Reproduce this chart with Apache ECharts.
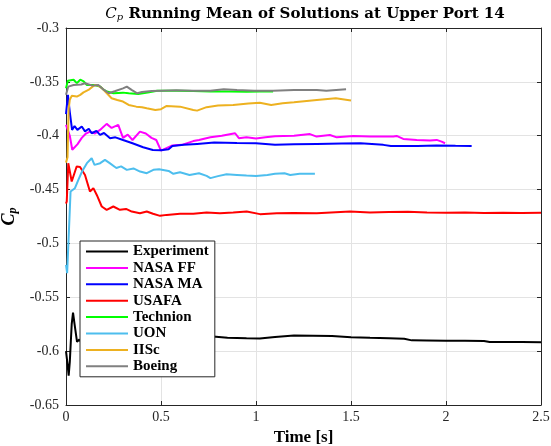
<!DOCTYPE html>
<html>
<head>
<meta charset="utf-8">
<script src="https://cdn.jsdelivr.net/npm/echarts@6/dist/echarts.min.js"></script>
<style>
  html, body { margin: 0; padding: 0; background: #fff; }
  #chart { width: 551px; height: 446px; }
</style>
</head>
<body>
<div id="chart"></div>
<script>
// Running-mean Cp at upper port 14, one time/value pair of arrays per source
const seriesNames = ['Experiment', 'NASA FF', 'NASA MA', 'USAFA', 'Technion', 'UON', 'IISc', 'Boeing'];

const expTime = [0, 0.008, 0.014, 0.02, 0.03, 0.037, 0.045, 0.058, 0.07, 0.08, 0.2, 0.4, 0.6, 0.774, 0.85, 0.95, 1.02, 1.1, 1.2, 1.3, 1.4, 1.5, 1.6, 1.7, 1.78, 1.82, 1.9, 2.0, 2.1, 2.2, 2.23, 2.3, 2.4, 2.5];
const expCp = [-0.600, -0.612, -0.6228, -0.610, -0.575, -0.5643, -0.575, -0.5914, -0.5892, -0.592, -0.590, -0.589, -0.588, -0.5863, -0.5875, -0.5880, -0.5883, -0.5868, -0.5854, -0.5856, -0.5860, -0.5870, -0.5876, -0.5880, -0.5885, -0.5900, -0.5901, -0.5903, -0.5903, -0.5905, -0.5915, -0.5915, -0.5914, -0.5917];

const nasaFfTime = [0, 0.02, 0.033, 0.04, 0.06, 0.083, 0.105, 0.126, 0.153, 0.179, 0.214, 0.24, 0.275, 0.3, 0.325, 0.35, 0.389, 0.42, 0.45, 0.475, 0.5, 0.51, 0.56, 0.61, 0.67, 0.7, 0.76, 0.82, 0.89, 0.91, 0.95, 1.0, 1.05, 1.1, 1.144, 1.2, 1.284, 1.319, 1.389, 1.425, 1.512, 1.6, 1.723, 1.74, 1.775, 1.846, 1.916, 1.951, 1.977, 1.995];
const nasaFfCp = [-0.390, -0.400, -0.413, -0.4138, -0.408, -0.402, -0.398, -0.3962, -0.398, -0.3946, -0.389, -0.3928, -0.390, -0.402, -0.399, -0.404, -0.3962, -0.398, -0.402, -0.404, -0.4138, -0.4145, -0.409, -0.4085, -0.405, -0.404, -0.4015, -0.400, -0.3977, -0.4023, -0.4015, -0.4025, -0.4015, -0.4005, -0.4002, -0.4000, -0.3985, -0.4008, -0.3993, -0.4015, -0.4002, -0.4008, -0.4008, -0.4002, -0.4030, -0.4039, -0.4045, -0.4039, -0.4055, -0.407];

const nasaMaTime = [0, 0.01, 0.02, 0.032, 0.045, 0.06, 0.083, 0.1, 0.12, 0.135, 0.16, 0.179, 0.2, 0.232, 0.26, 0.3, 0.35, 0.406, 0.457, 0.5, 0.54, 0.56, 0.62, 0.69, 0.78, 0.9, 1.0, 1.1, 1.2, 1.32, 1.45, 1.55, 1.67, 1.71, 1.85, 1.95, 2.05, 2.135];
const nasaMaCp = [-0.380, -0.362, -0.378, -0.3946, -0.391, -0.3946, -0.3915, -0.396, -0.3935, -0.3977, -0.3955, -0.3993, -0.3975, -0.4023, -0.4015, -0.404, -0.407, -0.4107, -0.4132, -0.4135, -0.4126, -0.4095, -0.4085, -0.4076, -0.4064, -0.4068, -0.407, -0.4085, -0.408, -0.4076, -0.4072, -0.407, -0.4085, -0.4095, -0.4095, -0.4090, -0.4093, -0.4095];

const usafaTime = [0, 0.004, 0.012, 0.03, 0.056, 0.074, 0.1, 0.126, 0.144, 0.162, 0.188, 0.214, 0.249, 0.284, 0.316, 0.346, 0.389, 0.425, 0.458, 0.495, 0.53, 0.6, 0.67, 0.74, 0.81, 0.88, 0.951, 1.021, 1.109, 1.196, 1.32, 1.495, 1.6, 1.7, 1.8, 1.9, 2.0, 2.1, 2.2, 2.3, 2.4, 2.5];
const usafaCp = [-0.463, -0.461, -0.4255, -0.4425, -0.4286, -0.429, -0.4364, -0.4518, -0.4487, -0.455, -0.4657, -0.4688, -0.4657, -0.4688, -0.4680, -0.4704, -0.4719, -0.4704, -0.4725, -0.4744, -0.4735, -0.4725, -0.4725, -0.4713, -0.472, -0.4713, -0.4704, -0.4728, -0.472, -0.4718, -0.472, -0.4704, -0.4712, -0.4708, -0.4705, -0.4712, -0.4715, -0.4712, -0.4718, -0.4715, -0.4718, -0.4715];

const technionTime = [0, 0.01, 0.02, 0.04, 0.057, 0.075, 0.093, 0.11, 0.15, 0.18, 0.2, 0.215, 0.25, 0.3, 0.33, 0.38, 0.43, 0.48, 0.58, 0.67, 0.76, 0.86, 0.95, 1.02, 1.09];
const technionCp = [-0.356, -0.349, -0.3485, -0.348, -0.3512, -0.348, -0.3495, -0.3529, -0.3529, -0.3544, -0.3575, -0.359, -0.3606, -0.3600, -0.3605, -0.3612, -0.3600, -0.3582, -0.3582, -0.3585, -0.359, -0.359, -0.3592, -0.359, -0.359];

const uonTime = [0, 0.006, 0.015, 0.024, 0.03, 0.047, 0.065, 0.085, 0.11, 0.135, 0.15, 0.18, 0.205, 0.23, 0.265, 0.29, 0.32, 0.355, 0.39, 0.425, 0.46, 0.49, 0.54, 0.565, 0.6, 0.65, 0.7, 0.74, 0.76, 0.8, 0.845, 0.9, 0.95, 1.0, 1.06, 1.1, 1.15, 1.18, 1.23, 1.31];
const uonCp = [-0.520, -0.5276, -0.490, -0.4518, -0.4503, -0.4487, -0.441, -0.433, -0.4255, -0.4209, -0.4271, -0.4255, -0.4224, -0.4255, -0.430, -0.4285, -0.4317, -0.4304, -0.4333, -0.4348, -0.4317, -0.4311, -0.4327, -0.4354, -0.434, -0.4364, -0.4348, -0.4373, -0.4394, -0.4375, -0.4358, -0.4364, -0.437, -0.4373, -0.4364, -0.4354, -0.4348, -0.4364, -0.4354, -0.4354];

const iiscTime = [0, 0.008, 0.014, 0.02, 0.03, 0.037, 0.057, 0.075, 0.092, 0.118, 0.14, 0.155, 0.17, 0.19, 0.215, 0.24, 0.27, 0.3, 0.33, 0.37, 0.4, 0.425, 0.47, 0.5, 0.53, 0.6, 0.67, 0.69, 0.74, 0.8, 0.88, 0.96, 1.02, 1.08, 1.14, 1.2, 1.32, 1.42, 1.5];
const iiscCp = [-0.425, -0.420, -0.375, -0.3668, -0.363, -0.3613, -0.3637, -0.3621, -0.3598, -0.3575, -0.3544, -0.3529, -0.3535, -0.356, -0.3606, -0.3652, -0.3668, -0.3683, -0.3714, -0.373, -0.3736, -0.3745, -0.3761, -0.3754, -0.3724, -0.373, -0.3761, -0.3767, -0.3735, -0.372, -0.3714, -0.370, -0.3693, -0.3714, -0.3699, -0.369, -0.3668, -0.3652, -0.3674];

const boeingTime = [0, 0.012, 0.04, 0.08, 0.1, 0.14, 0.17, 0.2, 0.225, 0.26, 0.3, 0.32, 0.345, 0.375, 0.4, 0.45, 0.5, 0.58, 0.67, 0.76, 0.83, 0.9, 0.99, 1.09, 1.2, 1.32, 1.37, 1.474];
const boeingCp = [-0.362, -0.3544, -0.3529, -0.3525, -0.3513, -0.3535, -0.3529, -0.3575, -0.3606, -0.3585, -0.356, -0.3544, -0.3575, -0.3606, -0.3595, -0.3585, -0.3582, -0.3578, -0.3582, -0.3582, -0.3569, -0.3575, -0.3582, -0.3582, -0.3575, -0.3575, -0.3582, -0.3569];

const xTicks = { min: 0, max: 2.5, step: 0.5 };
const yTicks = { min: -0.65, max: -0.3, step: 0.05 };

const timeSets = [expTime, nasaFfTime, nasaMaTime, usafaTime, technionTime, uonTime, iiscTime, boeingTime];
const cpSets = [expCp, nasaFfCp, nasaMaCp, usafaCp, technionCp, uonCp, iiscCp, boeingCp];
const lineColors = ['#000000', '#ff00ff', '#0000ff', '#ff0000', '#00ff00', '#4dbeee', '#edb120', '#808080'];

const serif = 'Liberation Serif';
const titleSerif = 'DejaVu Serif';
const axisColor = '#262626';
const gridColor = '#e3e3e3';

const pairs = (t, v) => t.map((x, i) => [x, v[i]]);
const fmt = v => String(Math.round(v * 100) / 100);

const series = seriesNames.map((name, i) => ({
  name: name,
  type: 'line',
  xAxisIndex: 0,
  yAxisIndex: 0,
  data: pairs(timeSets[i], cpSets[i]),
  showSymbol: false,
  symbol: 'none',
  smooth: false,
  animation: false,
  lineStyle: { color: lineColors[i], width: 2 },
  itemStyle: { color: lineColors[i] },
  z: 2 + i * 0.01
}));

const chart = echarts.init(document.getElementById('chart'), null, { renderer: 'canvas' });
chart.setOption({
  animation: false,
  backgroundColor: '#ffffff',
  title: {
    text: '{c|C}{p|p} Running Mean of Solutions at Upper Port 14',
    left: 305,
    top: 6,
    textAlign: 'center',
    padding: 0,
    textStyle: {
      fontFamily: titleSerif,
      fontWeight: 'bold',
      fontSize: 15,
      color: '#000',
      rich: {
        c: { fontFamily: titleSerif, fontStyle: 'italic', fontWeight: 'normal', fontSize: 15, color: '#000' },
        p: { fontFamily: titleSerif, fontStyle: 'italic', fontWeight: 'normal', fontSize: 10, color: '#000', verticalAlign: 'bottom', padding: [6, 0, 0, 0] }
      }
    }
  },
  grid: { left: 66, right: 10, top: 28, bottom: 41, containLabel: false, outerBoundsMode: 'none', show: false },
  legend: {
    data: seriesNames,
    orient: 'vertical',
    left: 80,
    top: 241,
    backgroundColor: '#ffffff',
    borderColor: axisColor,
    borderWidth: 1,
    borderRadius: 0,
    padding: [3, 6, 3, 5],
    itemWidth: 42,
    itemHeight: 14,
    itemGap: 1.4,
    itemStyle: { opacity: 0 },
    textStyle: { fontFamily: serif, fontWeight: 'bold', fontSize: 15, color: '#000' }
  },
  xAxis: [{
    type: 'value',
    min: xTicks.min, max: xTicks.max, interval: xTicks.step,
    position: 'bottom',
    name: 'Time [s]',
    nameLocation: 'middle',
    nameGap: 20,
    nameTextStyle: { fontFamily: serif, fontWeight: 'bold', fontSize: 17, color: '#000' },
    axisLine: { show: true, onZero: false, lineStyle: { color: axisColor, width: 1 } },
    axisTick: { show: true, inside: true, length: 4, lineStyle: { color: axisColor } },
    axisLabel: { fontFamily: serif, fontSize: 14, color: axisColor, margin: 5, formatter: fmt },
    splitLine: { show: true, lineStyle: { color: gridColor, width: 1 } }
  }, {
    type: 'value',
    min: xTicks.min, max: xTicks.max, interval: xTicks.step,
    position: 'top',
    axisLine: { show: true, onZero: false, lineStyle: { color: axisColor, width: 1 } },
    axisTick: { show: true, inside: true, length: 4, lineStyle: { color: axisColor } },
    axisLabel: { show: false },
    splitLine: { show: false }
  }],
  yAxis: [{
    type: 'value',
    min: yTicks.min, max: yTicks.max, interval: yTicks.step,
    position: 'left',
    name: '{c|C}{p|p}',
    nameLocation: 'middle',
    nameRotate: 90,
    nameGap: 38,
    nameTextStyle: {
      rich: {
        c: { fontFamily: serif, fontStyle: 'italic', fontWeight: 'bold', fontSize: 18, color: '#000' },
        p: { fontFamily: serif, fontStyle: 'italic', fontWeight: 'bold', fontSize: 12, color: '#000', verticalAlign: 'bottom', padding: [7, 0, 0, 0] }
      }
    },
    axisLine: { show: true, onZero: false, lineStyle: { color: axisColor, width: 1 } },
    axisTick: { show: true, inside: true, length: 4, lineStyle: { color: axisColor } },
    axisLabel: { fontFamily: serif, fontSize: 14, color: axisColor, margin: 7, formatter: fmt },
    splitLine: { show: true, lineStyle: { color: gridColor, width: 1 } }
  }, {
    type: 'value',
    min: yTicks.min, max: yTicks.max, interval: yTicks.step,
    position: 'right',
    axisLine: { show: true, onZero: false, lineStyle: { color: axisColor, width: 1 } },
    axisTick: { show: true, inside: true, length: 4, lineStyle: { color: axisColor } },
    axisLabel: { show: false },
    splitLine: { show: false }
  }],
  series: series
});
</script>
</body>
</html>
